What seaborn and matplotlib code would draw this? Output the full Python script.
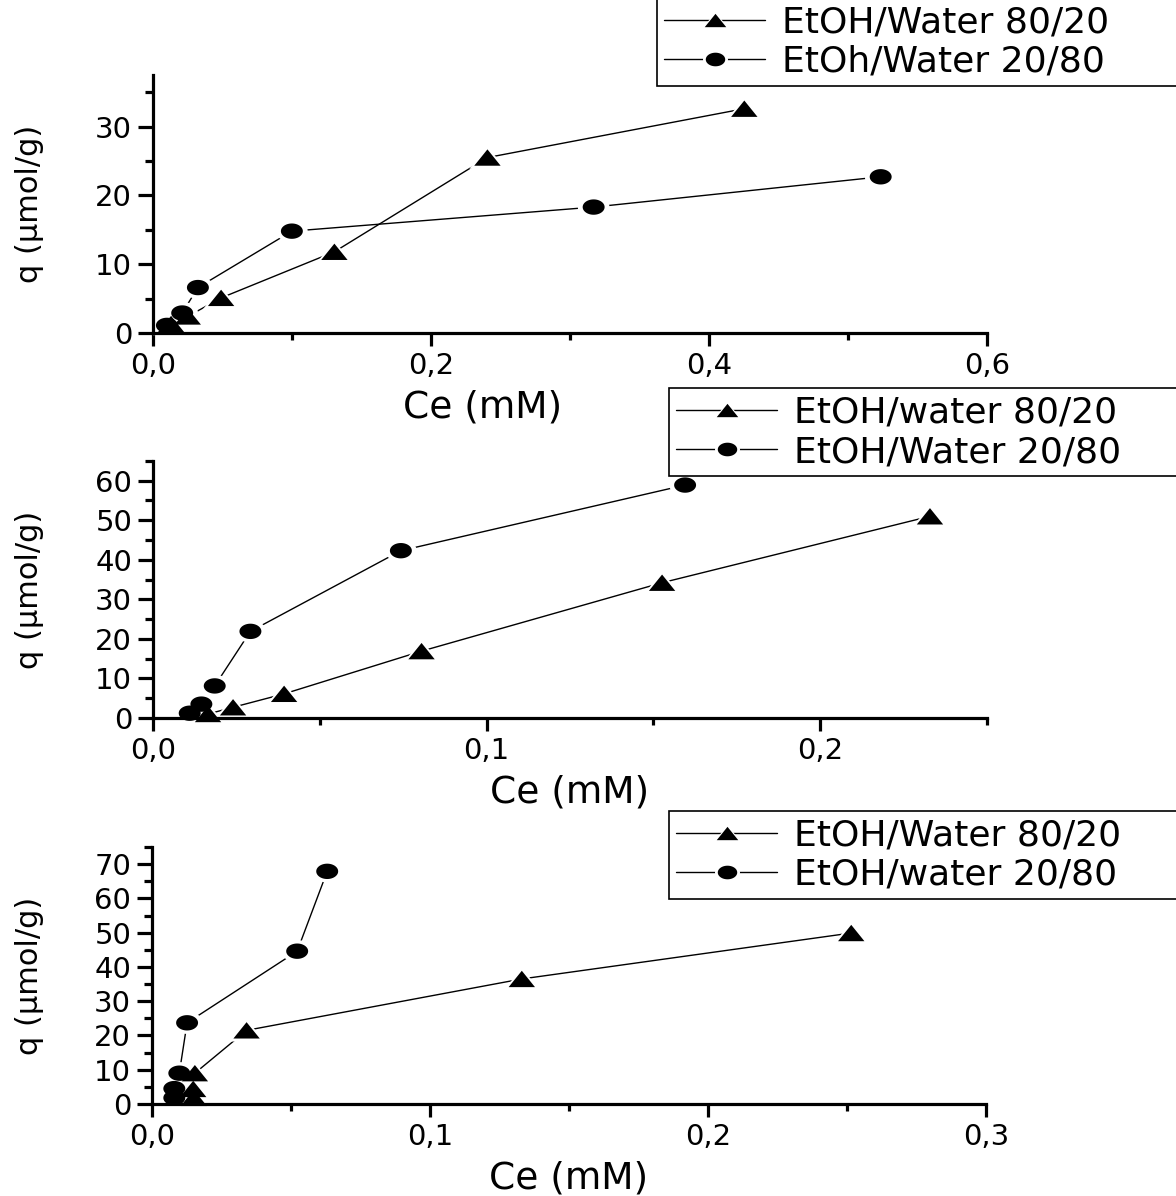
import numpy as np
import pandas as pd
import matplotlib
matplotlib.use("Agg")
import matplotlib.pyplot as plt
import seaborn as sns
from matplotlib.lines import Line2D
from matplotlib.legend_handler import HandlerTuple
from matplotlib.ticker import MultipleLocator, FuncFormatter

# ---------------- data ----------------
p1_ce_8020 = [0.013, 0.025, 0.049, 0.1305, 0.2406, 0.4254]
p1_q_8020 = [1.3, 2.4, 5.1, 11.8, 25.5, 32.6]
p1_ce_2080 = [0.010, 0.021, 0.0323, 0.0999, 0.317, 0.5235]
p1_q_2080 = [1.1, 2.9, 6.6, 14.8, 18.3, 22.7]

p2_ce_8020 = [0.0165, 0.024, 0.0393, 0.0805, 0.1526, 0.2329]
p2_q_8020 = [1.0, 2.7, 6.1, 16.9, 34.2, 51.0]
p2_ce_2080 = [0.0110, 0.0145, 0.0185, 0.0292, 0.0743, 0.1595]
p2_q_2080 = [1.2, 3.5, 8.1, 21.9, 42.3, 58.9]

p3_ce_8020 = [0.0150, 0.0148, 0.0154, 0.034, 0.133, 0.2515]
p3_q_8020 = [1.8, 4.4, 9.0, 21.5, 36.5, 49.9]
p3_ce_2080 = [0.0080, 0.0080, 0.0098, 0.0126, 0.0522, 0.063]
p3_q_2080 = [1.8, 4.5, 9.0, 23.7, 44.6, 67.9]

labels_p1 = ["EtOH/Water 80/20", "EtOh/Water 20/80"]
labels_p2 = ["EtOH/water 80/20", "EtOH/Water 20/80"]
labels_p3 = ["EtOH/Water 80/20", "EtOH/water 20/80"]

x_label = "Ce (mM)"
y_label = "q (\u00b5mol/g)"

# ---------------- style ----------------
sns.set_theme(style="white")
plt.rcParams["font.family"] = ["DejaVu Sans"]

t = np.linspace(0, 2 * np.pi, 64)
ELLIPSE = np.column_stack([np.cos(t), 0.70 * np.sin(t)])
TRIANGLE = np.array([[-1.0, -0.62], [1.0, -0.62], [0.0, 0.62], [-1.0, -0.62]])

MS_TRI = 19.0   # marker width in points
MS_CIR = 15.8
HALO = 7.0

fig = plt.figure(figsize=(11.76, 11.96), dpi=100)

panels = [
    dict(pos=[0.1301, 0.7216, 0.7092, 0.2157], xlim=(0, 0.6), xmaj=0.2, xmin=0.1,
         ylim=(0, 37.5), ymaj=10, ymin=5,
         tri=(p1_ce_8020, p1_q_8020), cir=(p1_ce_2080, p1_q_2080), labels=labels_p1,
         leg=(657 / 1176, 1 + 2 / 1196), xlabx=(483 - 153) / 834),
    dict(pos=[0.1301, 0.3997, 0.7092, 0.2149], xlim=(0, 0.25), xmaj=0.1, xmin=0.05,
         ylim=(0, 65), ymaj=10, ymin=5,
         tri=(p2_ce_8020, p2_q_8020), cir=(p2_ce_2080, p2_q_2080), labels=labels_p2,
         leg=(669 / 1176, 1 - 388 / 1196), xlabx=0.499),
    dict(pos=[0.1293, 0.0769, 0.7092, 0.2149], xlim=(0, 0.3), xmaj=0.1, xmin=0.05,
         ylim=(0, 75), ymaj=10, ymin=5,
         tri=(p3_ce_8020, p3_q_8020), cir=(p3_ce_2080, p3_q_2080), labels=labels_p3,
         leg=(669 / 1176, 1 - 811 / 1196), xlabx=0.499),
]

comma = FuncFormatter(lambda v, p: f"{v:.1f}".replace(".", ","))
intfmt = FuncFormatter(lambda v, p: f"{v:.0f}")

for cfg in panels:
    ax = fig.add_axes(cfg["pos"])
    ax.set_facecolor("white")
    series = [(cfg["tri"], TRIANGLE, MS_TRI, 15.5), (cfg["cir"], ELLIPSE, MS_CIR, 14.0)]
    # lines
    for (xs, ys), mk, ms, lms in series:
        df = pd.DataFrame({"x": xs, "y": ys})
        sns.lineplot(data=df, x="x", y="y", ax=ax, sort=False, estimator=None,
                     color="black", linewidth=1.0, zorder=1)
    # white halos (gaps between lines and symbols)
    for (xs, ys), mk, ms, lms in series:
        df = pd.DataFrame({"x": xs, "y": ys})
        sns.scatterplot(data=df, x="x", y="y", ax=ax, marker=mk, s=(ms + HALO) ** 2,
                        color="white", edgecolor="none", linewidth=0, zorder=1.5,
                        clip_on=False)
    # black symbols
    for (xs, ys), mk, ms, lms in series:
        df = pd.DataFrame({"x": xs, "y": ys})
        sns.scatterplot(data=df, x="x", y="y", ax=ax, marker=mk, s=ms ** 2,
                        color="black", edgecolor="none", linewidth=0, zorder=3,
                        clip_on=False)

    ax.set_xlim(*cfg["xlim"])
    ax.set_ylim(*cfg["ylim"])
    ax.xaxis.set_major_locator(MultipleLocator(cfg["xmaj"]))
    ax.xaxis.set_minor_locator(MultipleLocator(cfg["xmin"]))
    ax.yaxis.set_major_locator(MultipleLocator(cfg["ymaj"]))
    ax.yaxis.set_minor_locator(MultipleLocator(cfg["ymin"]))
    ax.xaxis.set_major_formatter(comma)
    ax.yaxis.set_major_formatter(intfmt)

    for s in ["top", "right"]:
        ax.spines[s].set_visible(False)
    for s in ["left", "bottom"]:
        ax.spines[s].set_color("black")
        ax.spines[s].set_linewidth(2.3)
    ax.tick_params(axis="both", which="both", direction="out", color="black",
                   width=2.3, labelsize=21, labelcolor="black",
                   bottom=True, left=True, top=False, right=False)
    ax.tick_params(axis="x", which="major", length=9.5, pad=4)
    ax.tick_params(axis="x", which="minor", length=5)
    ax.tick_params(axis="y", which="major", length=11, pad=4)
    ax.tick_params(axis="y", which="minor", length=5.5)

    ax.set_xlabel(x_label, fontsize=27, color="black", va="center", ha="center")
    ax.xaxis.set_label_coords(cfg["xlabx"], -0.29)
    ax.set_ylabel(y_label, fontsize=22, color="black", va="center", ha="center")
    ax.yaxis.set_label_coords(-0.1475, 0.5)

    handles = []
    for (xs, ys), mk, ms, lms in series:
        ln = Line2D([], [], color="black", linewidth=1.0)
        halo = Line2D([], [], linestyle="none", marker=mk, markersize=lms + 4,
                      markerfacecolor="white", markeredgewidth=0)
        dot = Line2D([], [], linestyle="none", marker=mk, markersize=lms,
                     markerfacecolor="black", markeredgewidth=0)
        handles.append((ln, halo, dot))
    lx, ly = cfg["leg"]
    leg = ax.legend(handles, cfg["labels"], loc="upper left",
                    bbox_to_anchor=(lx, ly - 0.2, 1.0 - lx + 0.01, 0.2),
                    bbox_transform=fig.transFigure, mode="expand",
                    borderaxespad=0, fontsize=26, frameon=True, fancybox=False,
                    edgecolor="black", framealpha=1, handlelength=2.8,
                    handletextpad=0.47, borderpad=0.2, labelspacing=0.16,
                    handler_map={tuple: HandlerTuple(ndivide=1, pad=0)})
    leg.get_frame().set_linewidth(1.2)
    for txt in leg.get_texts():
        txt.set_color("black")

fig.savefig("out.png", dpi=100, facecolor="white")
